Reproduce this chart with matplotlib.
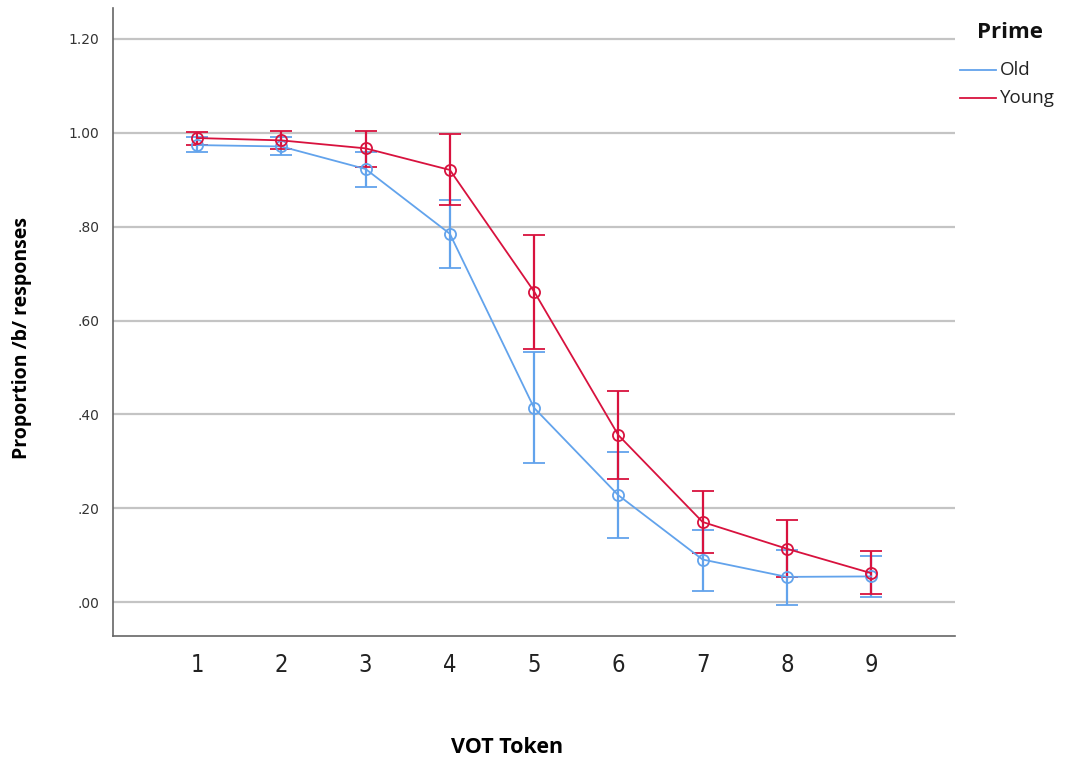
import matplotlib
matplotlib.use("Agg")
import matplotlib.pyplot as plt
from matplotlib.lines import Line2D
import numpy as np

tokens = [1, 2, 3, 4, 5, 6, 7, 8, 9]
old_mean = [0.974, 0.971, 0.923, 0.785, 0.414, 0.228, 0.091, 0.054, 0.055]
old_upper = [0.991, 0.992, 0.959, 0.857, 0.534, 0.320, 0.154, 0.112, 0.098]
old_lower = [0.960, 0.953, 0.885, 0.712, 0.296, 0.136, 0.023, -0.005, 0.011]
young_mean = [0.989, 0.984, 0.967, 0.921, 0.662, 0.356, 0.171, 0.114, 0.062]
young_upper = [1.002, 1.005, 1.004, 0.997, 0.783, 0.451, 0.238, 0.176, 0.109]
young_lower = [0.974, 0.966, 0.927, 0.847, 0.539, 0.263, 0.104, 0.054, 0.017]
yticks = [0.0, 0.2, 0.4, 0.6, 0.8, 1.0, 1.2]
ytick_labels = [".00", ".20", ".40", ".60", ".80", "1.00", "1.20"]
series_names = ["Old", "Young"]

c_old = "#62a3ec"
c_young = "#d8123e"

fig = plt.figure(figsize=(10.65, 7.64), dpi=100)
ax = fig.add_axes([0.106, 0.1675, 0.791, 0.822])

for mean, lo, hi, col in [(old_mean, old_lower, old_upper, c_old),
                          (young_mean, young_lower, young_upper, c_young)]:
    m = np.array(mean)
    err = np.vstack([m - np.array(lo), np.array(hi) - m])
    ax.errorbar(tokens, m, yerr=err, color=col, lw=1.3, elinewidth=1.6,
                capsize=8, capthick=1.8, marker="o", markersize=8,
                markerfacecolor="none", markeredgecolor=col, markeredgewidth=1.3,
                zorder=3)

ax.set_xlim(0, 10)
ax.set_ylim(-0.072, 1.266)
ax.set_yticks(yticks)
ax.set_yticklabels(ytick_labels, fontsize=10, color="#333333", family="DejaVu Sans")
ax.set_xticks(tokens)
ax.set_xticklabels([str(t) for t in tokens], fontsize=17, color="#222222",
                   family="DejaVu Sans", fontstretch="condensed")
ax.tick_params(axis="both", length=0, pad=10)
ax.tick_params(axis="x", pad=12)
ax.yaxis.grid(True, color="#c4c4c4", lw=1.6)
ax.set_axisbelow(True)
for s in ["top", "right"]:
    ax.spines[s].set_visible(False)
for s in ["left", "bottom"]:
    ax.spines[s].set_color("#666666")
    ax.spines[s].set_linewidth(1.2)

fig.text(0.021, 0.557, "Proportion /b/ responses", rotation=90, ha="center",
         va="center", fontsize=14, fontweight="bold", family="Open Sans")
fig.text(0.476, 0.022, "VOT Token", ha="center", va="center", fontsize=15.5,
         fontweight="bold", family="Open Sans")

# legend drawn manually in figure coordinates
fig.text(0.948, 1 - 33 / 764, "Prime", ha="center", va="center", fontsize=16,
         fontweight="bold", family="Open Sans", color="#111111")
for i, (name, col) in enumerate(zip(series_names, [c_old, c_young])):
    yy = 1 - (70 + 28 * i) / 764
    fig.add_artist(Line2D([960 / 1065, 996 / 1065], [yy, yy], color=col, lw=1.3,
                          transform=fig.transFigure))
    fig.text(1000 / 1065, yy, name, ha="left", va="center", fontsize=13.5,
             family="Open Sans", color="#222222")

fig.savefig("out.png", dpi=100)
